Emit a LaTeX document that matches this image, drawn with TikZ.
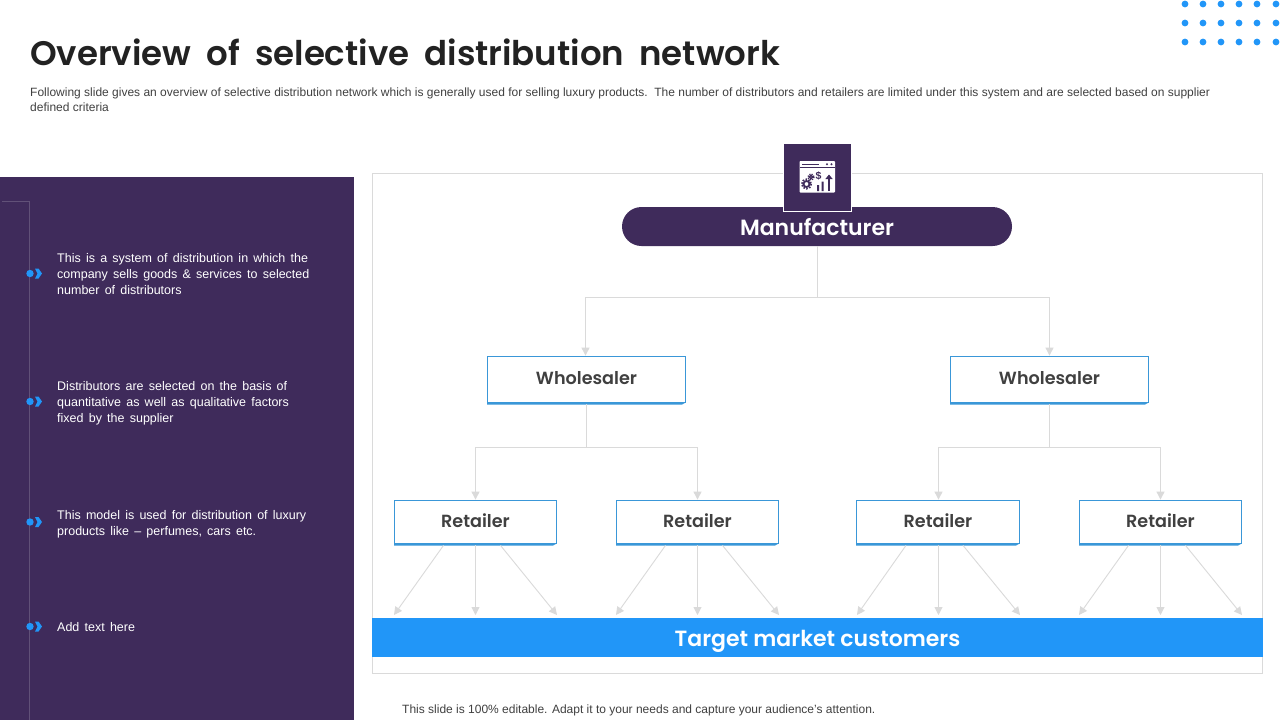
\documentclass[tikz,border=0pt]{standalone}
\usepackage{fontspec}
\setmainfont{Liberation Sans}
\newfontfamily\headfont[BoldFont={Poppins SemiBold}]{Poppins}
\newfontfamily\bodyfont[WordSpace=1.5]{Liberation Sans}
\usetikzlibrary{arrows.meta}
\definecolor{purp}{HTML}{3F2B5B}
\definecolor{blu}{HTML}{2196F8}
\definecolor{boxblu}{HTML}{3A97D8}
\definecolor{conn}{HTML}{DADADA}
\definecolor{txt}{HTML}{404040}
\definecolor{ink}{HTML}{222222}
\tikzset{
  x=1pt,y=-1pt,
  lvlbox/.style={draw=boxblu,line width=0.8pt,fill=white,minimum width=#1,inner sep=0pt,font=\headfont\fontsize{17.6}{20}\selectfont\bfseries,text=txt,text height=13pt,text depth=3pt},
  wbox/.style={lvlbox=198pt,minimum height=46pt},
  rbox/.style={lvlbox=162pt,minimum height=43pt,text height=15pt,text depth=3pt},
  link/.style={draw=conn,line width=0.9pt},
  arrowlink/.style={link,-{Triangle[width=8pt,length=8pt,fill=conn]}},
  para/.style={anchor=north west,align=left,inner sep=0pt,text=white,font=\bodyfont\fontsize{12.5}{16}\selectfont},
}
\begin{document}
\begin{tikzpicture}
\useasboundingbox (0,0) rectangle (1280,720);
\fill[white] (0,0) rectangle (1280,720);
% decorative dots
\foreach \px in {1185,1203,1221,1239,1257,1276}{\foreach \py in {4,23,42}{\fill[blu] (\px,\py) circle (3.4);}}
% title
\node[anchor=west,inner sep=0pt,text=ink,font=\headfont\fontsize{34}{40}\selectfont\bfseries] (title) at (30,52) {Overview\hspace{7pt} of\hspace{7pt} selective\hspace{7pt} distribution\hspace{7pt} network};
\node[anchor=north west,inner sep=0pt,align=left,text=txt,font=\fontsize{12}{15}\selectfont] (sub) at (30,88) {Following slide gives an overview of selective distribution network which is generally used for selling luxury products.\ \ The number of distributors and retailers are limited under this system and are selected based on supplier\\defined criteria};
% left panel
\fill[purp] (0,177) rectangle (354,720);
\draw[draw=white,draw opacity=0.18,line width=0.7pt] (2,201) -- (29,201) -- (29,720);
\foreach \py in {273.5,401.5,522,626.5}{
  \fill[blu] (30,\py) circle (3.7);
  \fill[blu] (35,\py-5) -- (38.5,\py-5) -- (42,\py) -- (38.5,\py+5) -- (35,\py+5) -- (37.5,\py) -- cycle;
}
\node[para] (p1) at (57,253) {This is a system of distribution in which the\\company sells goods \& services to selected\\number of distributors};
\node[para] (p2) at (57,381) {Distributors are selected on the basis of\\quantitative as well as qualitative factors\\fixed by the supplier};
\node[para] (p3) at (57,510) {This model is used for distribution of luxury\\products like – perfumes, cars etc.};
\node[para] (p4) at (57,622) {Add text here};
% frame
\draw[draw=conn,line width=0.8pt] (372.5,173.5) rectangle (1262.5,673.5);
% nodes
\node[fill=purp,rounded corners=19.5pt,minimum width=390pt,minimum height=39pt,inner sep=0pt,text=white,font=\headfont\fontsize{22}{26}\selectfont\bfseries,text height=19pt,text depth=2pt] (mfr) at (817,226.5) {Manufacturer};
\node[wbox] (w1) at (586.5,379) {Wholesaler};
\node[wbox] (w2) at (1049.5,379) {Wholesaler};
\node[rbox] (r1) at (475.5,521.5) {Retailer};
\node[rbox] (r2) at (697.5,521.5) {Retailer};
\node[rbox,minimum width=163pt] (r3) at (938,521.5) {Retailer};
\node[rbox] (r4) at (1160.5,521.5) {Retailer};
\node[fill=blu,minimum width=891pt,minimum height=39pt,inner sep=0pt,text=white,font=\headfont\fontsize{22}{26}\selectfont\bfseries,text height=19pt,text depth=2pt] (bar) at (817.5,637.5) {Target market customers};
% blue bottom edges
\foreach \n in {w1,w2,r1,r2,r3,r4}{
  \fill[boxblu] (\n.south west) -- (\n.south east) -- ([xshift=-4pt,yshift=-2.2pt]\n.south east) -- ([yshift=-2.2pt]\n.south west) -- cycle;
}
% connectors
\coordinate (jm) at (817.5,297.5);
\coordinate (j1) at (586.5,447.5);
\coordinate (j2) at (1049.5,447.5);
\draw[link] (mfr.south -| jm) -- (jm);
\draw[arrowlink] (jm) -| ([xshift=-1pt]w1.north);
\draw[arrowlink] (jm) -| (w2.north);
\draw[link] ([yshift=-2pt]w1.south) -- (j1);
\draw[link] ([yshift=-2pt]w2.south) -- (j2);
\draw[arrowlink] (j1) -| (r1.north);
\draw[arrowlink] (j1) -| (r2.north);
\draw[arrowlink] (j2) -| ([xshift=0.5pt]r3.north);
\draw[arrowlink] (j2) -| (r4.north);
\foreach \n/\c/\l/\r/\o in {r1/475.5/394/557/0,r2/697.5/616/779/0,r3/938.5/857/1020/0.5,r4/1160.5/1079/1242/0}{
  \coordinate (tl\n) at (\l,615);
  \coordinate (tc\n) at (\c,615);
  \coordinate (tr\n) at (\r,615);
  \draw[arrowlink] ([xshift=-32pt,yshift=-2pt]\n.south) -- (tl\n);
  \draw[arrowlink] ([xshift=\o pt,yshift=-2pt]\n.south) -- (tc\n);
  \draw[arrowlink] ([xshift=25pt,yshift=-2pt]\n.south) -- (tr\n);
}
% icon
\node[draw=white,line width=1pt,fill=purp,minimum size=68pt,inner sep=0pt] (icon) at (817.5,177.5) {};
\fill[white,rounded corners=0.8pt] (799.5,161) rectangle (835,192.5);
\fill[purp] (802,163.5) rectangle (819,165);
\fill[purp] (827,164.2) circle (1.1) (831.5,164.2) circle (1.1);
\fill[purp] (799.5,167) rectangle (835,167.8);
\draw[purp,line width=1.8pt] (806.5,184) circle (3);
\draw[purp,line width=1.6pt,dash pattern=on 1.6pt off 1.4pt] (806.5,184) circle (4.8);
\draw[purp,line width=1.4pt] (811,177) circle (1.6);
\draw[purp,line width=1.3pt,dash pattern=on 1.2pt off 1.2pt] (811,177) circle (3);
\node[inner sep=0pt,text=purp,font=\bfseries\fontsize{10.5}{10}\selectfont] (dollar) at (818.5,175.5) {\$};
\fill[purp] (817,185) rectangle (819,191) (821.5,181.5) rectangle (823.5,191);
\draw[purp,line width=2pt,-{Triangle[width=7pt,length=4.5pt]}] (829,191) -- (829,174.5);
% footer
\node[anchor=west,inner sep=0pt,text=txt,font=\fontsize{12}{14}\selectfont] (foot) at (402,710) {This slide is 100\% editable. Adapt it to your needs and capture your audience's attention.};
\end{tikzpicture}
\end{document}
